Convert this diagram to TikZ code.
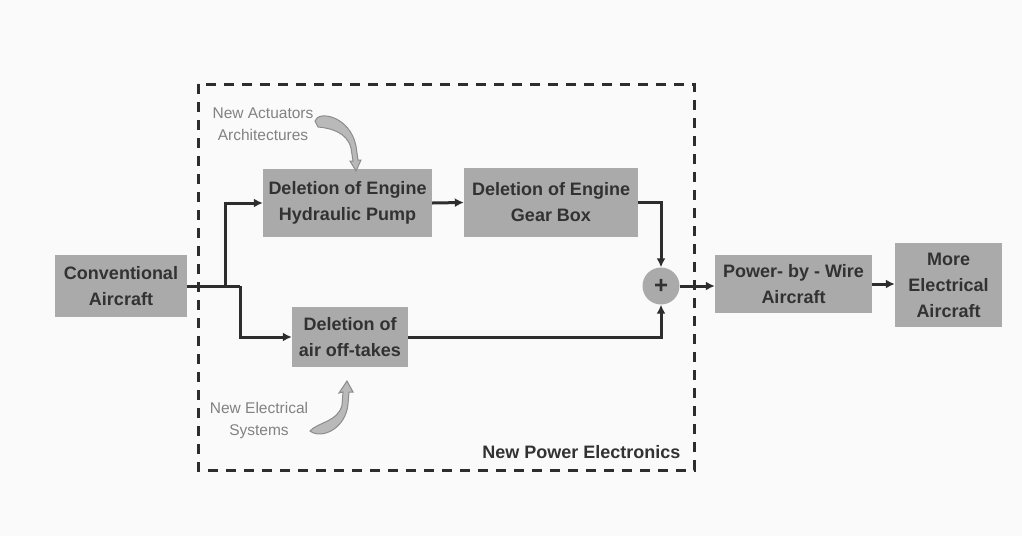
\documentclass[tikz,border=0pt]{standalone}
\usepackage{fontspec}
\setmainfont{Liberation Sans}
\usetikzlibrary{arrows.meta,calc}
\definecolor{boxgray}{RGB}{170,170,170}
\definecolor{txtdark}{RGB}{50,50,50}
\definecolor{linedark}{RGB}{45,45,45}
\definecolor{lblgray}{RGB}{130,130,130}
\definecolor{bg}{RGB}{250,250,250}
\definecolor{curlfill}{RGB}{185,185,185}
\definecolor{curldraw}{RGB}{140,140,140}
\begin{document}
\begin{tikzpicture}[x=1pt,y=-1pt,
  blk/.style={fill=boxgray,draw=none,inner sep=0pt,align=center,text=txtdark,
    font=\fontsize{18}{26}\selectfont\bfseries},
  conn/.style={draw=linedark,line width=3pt,-{Latex[length=9pt,width=9pt]}},
  plain/.style={draw=linedark,line width=3pt},
  lbl/.style={text=lblgray,align=center,font=\fontsize{15.5}{22}\selectfont},
  curl/.style={fill=curlfill,draw=curldraw,line width=1pt}]
\fill[bg] (0,0) rectangle (1022,536);
\useasboundingbox (0,0) rectangle (1022,536);
% dashed frame
\draw[linedark,line width=3pt,dash pattern=on 10pt off 8pt] (198,84) rectangle (694,470);
\node[anchor=south east,text=txtdark,font=\fontsize{18}{20}\selectfont\bfseries] (npe) at (684,462) {New Power Electronics};
% blocks
\node[blk,minimum width=132pt,minimum height=62pt] (conv) at (121,286) {Conventional\\Aircraft};
\node[blk,minimum width=169pt,minimum height=68pt] (hyd) at (347.5,203) {Deletion of Engine\\Hydraulic Pump};
\node[blk,minimum width=174pt,minimum height=69pt] (gear) at (551,202.5) {Deletion of Engine\\Gear Box};
\node[blk,minimum width=116pt,minimum height=60pt] (air) at (350,337) {Deletion of\\air off-takes};
\node[circle,fill=boxgray,minimum size=37pt,inner sep=0pt,text=txtdark,font=\fontsize{24}{24}\selectfont\bfseries] (plus) at (661,286) {+};
\node[blk,minimum width=157pt,minimum height=58pt] (pbw) at (793.5,284) {Power- by - Wire\\Aircraft};
\node[blk,minimum width=107pt,minimum height=84pt] (more) at (948.5,285) {More\\Electrical\\Aircraft};
% junctions
\coordinate (j1) at (225,286);
\coordinate (j2) at (240,286);
% connectors
\draw[plain] (conv.east |- j1) -- (j2);
\draw[conn] (j1) |- (hyd.west);
\draw[conn] (j2) |- (air.west);
\draw[conn] (hyd.east) -- (gear.west);
\draw[conn] (gear.east) -| (plus.north);
\draw[conn] (air.east) -| (plus.south);
\draw[conn] (plus.east) -- (pbw.west |- plus.east);
\draw[conn] (pbw.east) -- (more.west |- pbw.east);
% labels
\node[lbl] (nact) at (263,124) {New Actuators\\Architectures};
\node[lbl] (nelec) at (259,420) {New Electrical\\Systems};
% curly arrows
\draw[curl] (315,121) .. controls (318,110) and (350,116) .. (356,146) -- (358,160) -- (361,160) -- (356,171) -- (350,161) -- (353,161) -- (351,148) .. controls (347,132) and (330,128) .. (318,127) -- cycle;
\draw[curl] (310,431) .. controls (318,422) and (338,422) .. (342,405) -- (343,392) -- (339,393) -- (347,381) -- (353,392) -- (349,392) -- (348,404) .. controls (346,428) and (322,440) .. (310,431) -- cycle;
\end{tikzpicture}
\end{document}
